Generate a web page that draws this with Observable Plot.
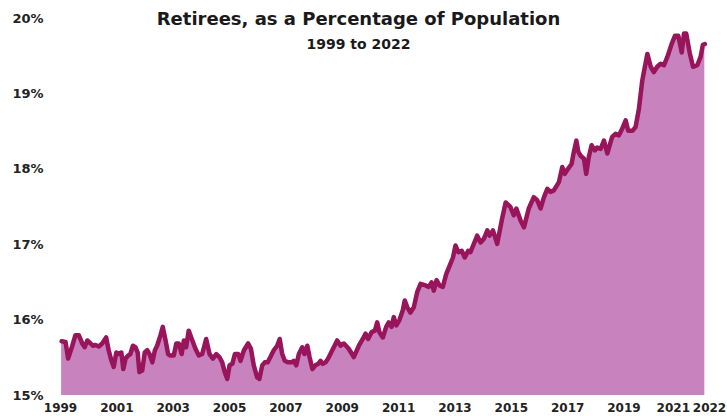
<!DOCTYPE html>
<html>
<head>
<meta charset="utf-8">
<script src="https://cdn.jsdelivr.net/npm/d3@7"></script>
<script src="https://cdn.jsdelivr.net/npm/@observablehq/plot@0.6"></script>
<style>
  html, body { margin: 0; padding: 0; background: #fff; }
</style>
</head>
<body>
<div id="chart"></div>
<script>
const title = "Retirees, as a Percentage of Population";
const subtitle = "1999 to 2022";
const xTicks = [1999, 2001, 2003, 2005, 2007, 2009, 2011, 2013, 2015, 2017, 2019, 2021, 2022];
const yTicks = [15, 16, 17, 18, 19, 20];

const years = [
  1999.04, 1999.18, 1999.27, 1999.42, 1999.53, 1999.65, 1999.77, 1999.86, 1999.95, 2000.07,
  2000.15, 2000.24, 2000.36, 2000.48, 2000.62, 2000.71, 2000.81, 2000.89, 2000.98, 2001.07,
  2001.16, 2001.23, 2001.31, 2001.40, 2001.48, 2001.57, 2001.66, 2001.74, 2001.80, 2001.90,
  2001.99, 2002.08, 2002.16, 2002.26, 2002.35, 2002.43, 2002.55, 2002.63, 2002.73, 2002.82,
  2002.90, 2003.02, 2003.11, 2003.20, 2003.30, 2003.38, 2003.46, 2003.55, 2003.68, 2003.79,
  2003.91, 2004.03, 2004.17, 2004.29, 2004.41, 2004.53, 2004.64, 2004.74, 2004.83, 2004.92,
  2005.00, 2005.10, 2005.19, 2005.31, 2005.39, 2005.51, 2005.66, 2005.76, 2005.86, 2005.98,
  2006.06, 2006.16, 2006.25, 2006.35, 2006.45, 2006.57, 2006.69, 2006.78, 2006.87, 2006.96,
  2007.08, 2007.20, 2007.28, 2007.37, 2007.46, 2007.58, 2007.66, 2007.76, 2007.84, 2007.94,
  2008.05, 2008.15, 2008.23, 2008.31, 2008.41, 2008.50, 2008.58, 2008.82, 2008.94, 2009.06,
  2009.23, 2009.41, 2009.59, 2009.73, 2009.83, 2009.92, 2010.04, 2010.16, 2010.24, 2010.32,
  2010.44, 2010.56, 2010.65, 2010.75, 2010.83, 2010.92, 2011.03, 2011.15, 2011.22, 2011.31,
  2011.42, 2011.54, 2011.66, 2011.78, 2011.96, 2012.07, 2012.17, 2012.25, 2012.35, 2012.45,
  2012.57, 2012.69, 2012.81, 2012.93, 2013.02, 2013.12, 2013.24, 2013.35, 2013.47, 2013.55,
  2013.79, 2013.91, 2014.03, 2014.15, 2014.23, 2014.35, 2014.50, 2014.66, 2014.80, 2014.97,
  2015.09, 2015.18, 2015.33, 2015.45, 2015.62, 2015.80, 2015.92, 2016.04, 2016.16, 2016.28,
  2016.39, 2016.51, 2016.69, 2016.81, 2016.90, 2017.02, 2017.14, 2017.22, 2017.31, 2017.38,
  2017.46, 2017.58, 2017.66, 2017.75, 2017.85, 2017.97, 2018.05, 2018.17, 2018.29, 2018.41,
  2018.58, 2018.70, 2018.82, 2018.94, 2019.06, 2019.15, 2019.30, 2019.41, 2019.53, 2019.65,
  2019.83, 2019.95, 2020.06, 2020.18, 2020.30, 2020.42, 2020.54, 2020.69, 2020.81, 2020.93,
  2021.05, 2021.13, 2021.21, 2021.33, 2021.45, 2021.60, 2021.72, 2021.80, 2021.87
];

const values = [
  15.72, 15.71, 15.49, 15.66, 15.80, 15.80, 15.69, 15.64, 15.73, 15.69,
  15.66, 15.67, 15.65, 15.69, 15.77, 15.60, 15.46, 15.38, 15.57, 15.55,
  15.57, 15.35, 15.49, 15.53, 15.55, 15.66, 15.64, 15.57, 15.31, 15.33,
  15.57, 15.60, 15.55, 15.44, 15.60, 15.66, 15.80, 15.91, 15.73, 15.55,
  15.53, 15.53, 15.69, 15.69, 15.55, 15.73, 15.64, 15.86, 15.73, 15.62,
  15.53, 15.55, 15.75, 15.55, 15.49, 15.55, 15.51, 15.44, 15.31, 15.22,
  15.40, 15.42, 15.55, 15.55, 15.46, 15.60, 15.69, 15.62, 15.40, 15.24,
  15.22, 15.40, 15.44, 15.44, 15.51, 15.60, 15.66, 15.75, 15.55, 15.46,
  15.44, 15.44, 15.46, 15.40, 15.55, 15.64, 15.55, 15.66, 15.51, 15.35,
  15.40, 15.42, 15.46, 15.42, 15.44, 15.49, 15.55, 15.73, 15.66, 15.69,
  15.62, 15.51, 15.66, 15.75, 15.82, 15.75, 15.84, 15.86, 15.97, 15.84,
  15.77, 15.91, 15.97, 15.91, 16.04, 15.93, 16.00, 16.13, 16.26, 16.17,
  16.10, 16.17, 16.37, 16.48, 16.46, 16.44, 16.50, 16.39, 16.53, 16.46,
  16.44, 16.61, 16.72, 16.83, 16.99, 16.90, 16.92, 16.83, 16.92, 16.90,
  17.12, 17.03, 17.08, 17.19, 17.12, 17.19, 17.01, 17.32, 17.56, 17.50,
  17.39, 17.48, 17.32, 17.23, 17.48, 17.63, 17.59, 17.48, 17.63, 17.74,
  17.70, 17.72, 17.83, 18.03, 17.94, 18.01, 18.07, 18.23, 18.38, 18.23,
  18.18, 18.14, 17.94, 18.16, 18.32, 18.25, 18.29, 18.27, 18.38, 18.21,
  18.43, 18.47, 18.45, 18.54, 18.65, 18.51, 18.51, 18.56, 18.80, 19.18,
  19.53, 19.36, 19.29, 19.36, 19.40, 19.38, 19.49, 19.66, 19.77, 19.77,
  19.55, 19.80, 19.80, 19.55, 19.36, 19.38, 19.49, 19.65, 19.66
];

const data = years.map((year, i) => ({year, value: values[i]}));
const lastTicks = xTicks.slice(-2);
const mainTicks = xTicks.slice(0, -2);

const chart = Plot.plot({
  width: 727,
  height: 416,
  marginLeft: 60,
  marginRight: 19,
  marginTop: 18,
  marginBottom: 21,
  style: {
    fontFamily: "'DejaVu Sans', sans-serif",
    fontWeight: "bold",
    fontSize: "13px",
    color: "#222",
    background: "#fff",
    overflow: "visible"
  },
  x: {
    domain: [1999, 2022],
    axis: null
  },
  y: {
    domain: [15, 20],
    ticks: yTicks,
    tickFormat: d => d + "%",
    tickSize: 0,
    tickPadding: 17,
    label: null
  },
  marks: [
    Plot.areaY(data, {x: "year", y1: 15, y2: "value", fill: "#c882bd"}),
    Plot.lineY(data, {x: "year", y: "value", stroke: "#98145b", strokeWidth: 4.5, strokeLinejoin: "round", strokeLinecap: "round"}),
    Plot.text(mainTicks, {x: d => d, text: d => String(d), frameAnchor: "bottom", lineAnchor: "top", dy: 8, fontSize: 12, fontWeight: "bold", fill: "#222"}),
    Plot.text([lastTicks[0]], {x: d => d, text: d => String(d), frameAnchor: "bottom", lineAnchor: "top", dy: 8, dx: -7, fontSize: 12, fontWeight: "bold", fill: "#222"}),
    Plot.text([lastTicks[1]], {x: d => d, text: d => String(d), frameAnchor: "bottom", lineAnchor: "top", dy: 8, dx: 1, fontSize: 12, fontWeight: "bold", fill: "#222"}),
    Plot.text([title], {frameAnchor: "top", lineAnchor: "middle", dx: -26, dy: 1, fontSize: 18, fontWeight: "bold", fill: "#1a1a1a"}),
    Plot.text([subtitle], {frameAnchor: "top", lineAnchor: "middle", dx: -26, dy: 26, fontSize: 14, fontWeight: "bold", fill: "#1a1a1a"})
  ]
});

document.getElementById("chart").appendChild(chart);
</script>
</body>
</html>
